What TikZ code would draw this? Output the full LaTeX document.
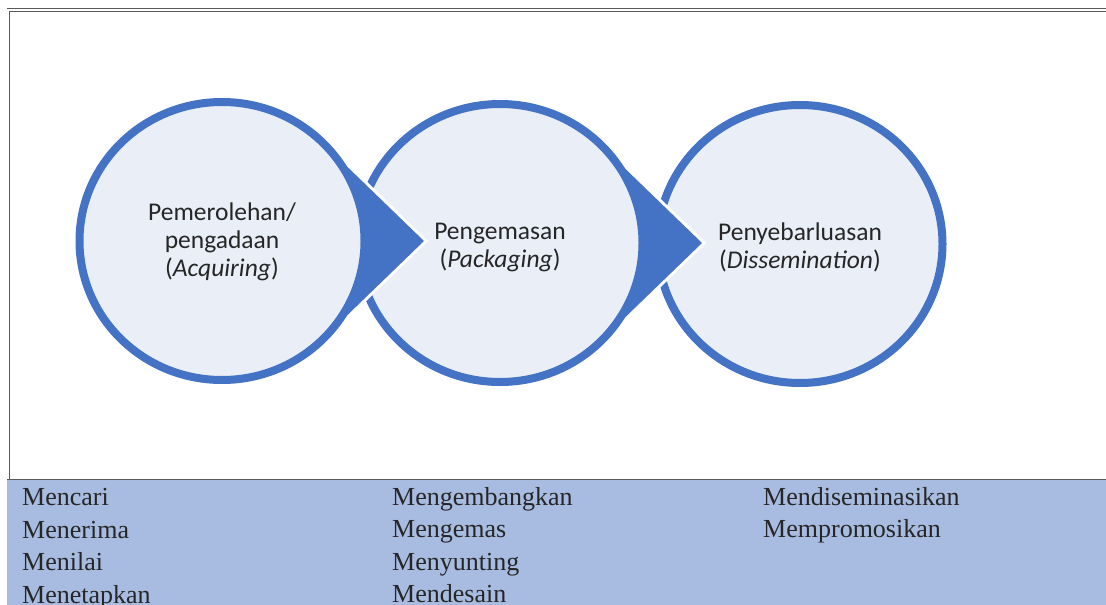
\documentclass[tikz,border=0pt]{standalone}
\usepackage{fontspec}
\setmainfont{Liberation Serif}
\newfontfamily\smartfont{Carlito}
\usetikzlibrary{calc,positioning,shapes.geometric}
\definecolor{b1}{HTML}{4472C4}
\definecolor{b2}{HTML}{E9EEF7}
\definecolor{b3}{HTML}{A8BCE2}
\definecolor{g1}{HTML}{262626}
\definecolor{g2}{HTML}{5A5A5A}
\tikzstyle{phase}=[ellipse,draw=b1,fill=b2,line width=8pt,minimum width=285pt,minimum height=278pt,inner sep=0pt]
\tikzstyle{phase label}=[align=center,text=g1,inner sep=0pt,font=\smartfont\fontsize{25.5}{28}\selectfont]
\tikzstyle{phase arrow}=[fill=b1,preaction={draw=white,line width=6pt,line join=miter}]
\tikzstyle{verbs}=[anchor=north west,align=left,inner sep=0pt,text=g1,font=\fontsize{26}{32.5}\selectfont]
\tikzstyle{rule}=[g2,line width=1pt]

\begin{document}
\begin{tikzpicture}[x=1pt,y=-1pt]
  \useasboundingbox (0,0) rectangle (1106,605);
  % frame and table row
  \draw[rule] (7,8.5) -- (1106,8.5);
  \draw[rule] (9,11.5) -- (1106,11.5);
  \draw[rule] (9.5,11.5) -- (9.5,479);
  \fill[b3] (7,479) rectangle (1106,605);
  \draw[rule] (7,479) -- (1106,479);
  \coordinate (C1) at (222,241);
  \coordinate (C2) at (500,243);
  \coordinate (C3) at (800,244);
  \node[phase] (dis) at (C3) {};
  \path[phase arrow] ($(C2)+(202,0)$) -- ($(C2)+(111,-88)$) -- (C2)
                     -- ($(C2)+(111,88)$) -- cycle;
  \node[phase] (pack) at (C2) {};
  \path[phase arrow] ($(C1)+(202,0)$) -- ($(C1)+(111,-88)$) -- (C1)
                     -- ($(C1)+(111,88)$) -- cycle;
  \node[phase] (acq) at (C1) {};
  \node[phase label] (acqt) at ($(acq)+(0,1)$) {Pemerolehan/\\pengadaan\\(\textit{Acquiring})};
  \node[phase label] (packt) at ($(pack)+(0,5)$) {Pengemasan\\(\textit{Packaging})};
  \node[phase label] (dist) at ($(dis)+(0,3)$) {Penyebarluasan\\(\textit{Dissemination})};
  % verbs per phase
  \node[verbs] (acqv) at (22,488.5) {Mencari\\Menerima\\Menilai\\Menetapkan};
  \node[verbs] (packv) at (392,487) {Mengembangkan\\Mengemas\\Menyunting\\Mendesain};
  \node[verbs] (disv) at (763,487) {Mendiseminasikan\\Mempromosikan};
\end{tikzpicture}
\end{document}
